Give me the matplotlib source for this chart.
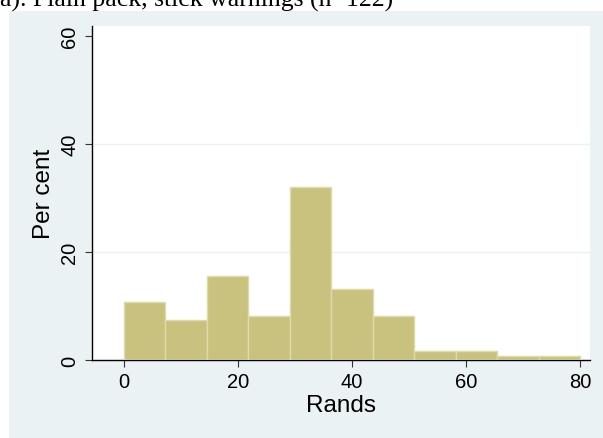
import numpy as np
import matplotlib
matplotlib.use("Agg")
import matplotlib.pyplot as plt

# Histogram of stated prices, 11 equal bins over 0-80 rands
bin_edges = np.linspace(0, 80, 12)
counts = [13, 9, 19, 10, 39, 16, 10, 2, 2, 1, 1]
n_total = 122
percent = [c / n_total * 100 for c in counts]

x_ticks = [0, 20, 40, 60, 80]
y_ticks = [0, 20, 40, 60]
grid_levels = [20, 40]

title = "a). Plain pack, stick warnings (n=122)"
bg_blue = "#eaf2f3"
bar_fill = "#c9c27f"
bar_edge = "#dedaa9"

W, H = 603, 439
fig = plt.figure(figsize=(W / 100, H / 100), dpi=100)
fig.patch.set_facecolor("white")

# outer graph region (light blue panel behind the plot)
bg = fig.add_axes([9 / W, 0, 1 - 9 / W, 1 - 12 / H], zorder=0)
bg.set_facecolor(bg_blue)
bg.set_xticks([])
bg.set_yticks([])
for s in bg.spines.values():
    s.set_visible(False)

ax = fig.add_axes([92 / W, 1 - 361 / H, (590 - 92) / W, (361 - 27) / H],
                  zorder=1)
ax.set_facecolor("white")

widths = np.diff(bin_edges)
ax.bar(bin_edges[:-1], percent, width=widths, align="edge",
       color=bar_fill, edgecolor=bar_edge, linewidth=1.0, zorder=3)

for g in grid_levels:
    ax.axhline(g, color=bg_blue, linewidth=1.0, zorder=1)

ax.set_xlim(-5.6, 81.75)
ax.set_ylim(0, 61.8)
ax.set_xticks(x_ticks)
ax.set_yticks(y_ticks)

font = "Liberation Sans"
ax.set_xticklabels([str(t) for t in x_ticks], fontsize=14.5, family=font)
ax.set_yticklabels([str(t) for t in y_ticks], fontsize=14.5, family=font,
                   rotation=90, va="center")
ax.tick_params(axis="both", direction="out", length=5, width=0.8,
               color="#333333", pad=4)
ax.set_xlabel("Rands", fontsize=17.5, family=font, labelpad=2)
ax.set_ylabel("Per cent", fontsize=17.5, family=font, labelpad=4)

for side in ("top", "right"):
    ax.spines[side].set_visible(False)
for side in ("left", "bottom"):
    ax.spines[side].set_color("black")
    ax.spines[side].set_linewidth(1.0)

fig.text(0, 1 - 7 / H, title, fontsize=18.5, family="Liberation Serif",
         ha="left", va="baseline")

fig.savefig("out.png", dpi=100)
